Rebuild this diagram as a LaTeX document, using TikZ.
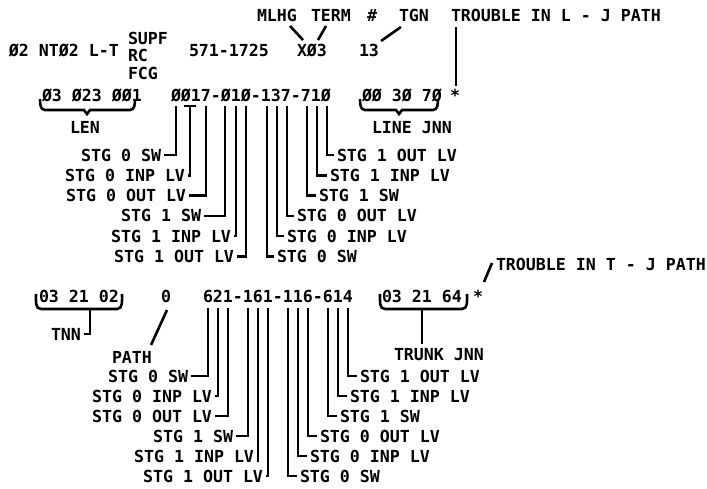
\documentclass[tikz,border=0pt]{standalone}
\usepackage{fontspec}
\setmainfont{DejaVu Sans Mono}
\newcommand\dfont{\fontsize{16.6}{18}\selectfont\bfseries}
\begin{document}
\begin{tikzpicture}[x=1pt,y=-1pt,
  tl/.style={inner sep=0pt, outer sep=0pt, anchor=base west, font=\dfont},
  tr/.style={tl, anchor=base east},
  ln/.style={line width=2.6pt}]
\useasboundingbox[fill=white] (0,0) rectangle (707,488);
% ---------- row 1 ----------
\node[tl] (mlhg) at (257,21) {MLHG};
\node[tl] (term) at (311,21) {TERM};
\node[tl] (hash) at (367,21) {\#};
\node[tl] (tgn) at (399,21) {TGN};
\node[tl] (trl) at (451,21) {TROUBLE IN L - J PATH};
% ---------- row 2 ----------
\node[tl] (nt) at (9,56) {Ø2 NTØ2 L-T};
\node[tl] (supf) at (128,44) {SUPF};
\node[tl] (rc) at (128,61) {RC};
\node[tl] (fcg) at (128,79) {FCG};
\node[tl] (num) at (189,56) {571-1725};
\node[tl] (x03) at (297,56) {XØ3};
\node[tl] (n13) at (359,56) {13};
\coordinate (m1) at (290,26); \coordinate (m2) at (303,40);
\coordinate (e1) at (326,26); \coordinate (e2) at (318,40);
\coordinate (g1) at (401,27); \coordinate (g2) at (381,41);
\draw[ln] (m1) -- (m2);
\draw[ln] (e1) -- (e2);
\draw[ln] (g1) -- (g2);
% ---------- row 3 ----------
\node[tl] (len3) at (42,101) {Ø3 Ø23 ØØ1};
\node[tl] (lnum) at (171,101) {ØØ17-Ø1Ø-137-71Ø};
\node[tl] (ljn) at (362,101) {ØØ 3Ø 7Ø};
\node[tl] (st1) at (450,101) {*};
\coordinate (t1) at (456,27); \coordinate (t2) at (456,86);
\draw[ln] (t1) -- (t2);
\draw[ln] (40,99) to[out=-90,in=180] (45,110) -- (84,110) -- (87,114) -- (90,110) -- (130,110) to[out=0,in=-90] (135,99);
\draw[ln] (360,99) to[out=-90,in=180] (365,110) -- (396,110) -- (399,114) -- (402,110) -- (433,110) to[out=0,in=-90] (438,99);
\node[tl] (len) at (70,133) {LEN};
\node[tl] (linejnn) at (372,133) {LINE JNN};
% ---------- top lists ----------
\node[tr] (la1) at (161,161) {STG 0 SW};
\node[tr] (la2) at (185,181.3) {STG 0 INP LV};
\node[tr] (la3) at (186,201.6) {STG 0 OUT LV};
\node[tr] (la4) at (201,221.9) {STG 1 SW};
\node[tr] (la5) at (231,242.2) {STG 1 INP LV};
\node[tr] (la6) at (234,262.5) {STG 1 OUT LV};
\node[tl] (ra1) at (337,161) {STG 1 OUT LV};
\node[tl] (ra2) at (330,181.3) {STG 1 INP LV};
\node[tl] (ra3) at (319,201.6) {STG 1 SW};
\node[tl] (ra4) at (297,221.9) {STG 0 OUT LV};
\node[tl] (ra5) at (287,242.2) {STG 0 INP LV};
\node[tl] (ra6) at (277,262.5) {STG 0 SW};
\coordinate (a1) at (176,106); \coordinate (a2) at (190,106);
\coordinate (a3) at (206,106); \coordinate (a4) at (225,106);
\coordinate (a5) at (236,106); \coordinate (a6) at (246,106);
\coordinate (b1) at (327,106); \coordinate (b2) at (317,106);
\coordinate (b3) at (307,106); \coordinate (b4) at (287,106);
\coordinate (b5) at (277,106); \coordinate (b6) at (267,106);
\coordinate (tb1) at (184,106); \coordinate (tb2) at (196,106);
\draw[ln] (tb1) -- (tb2);
\foreach \i in {1,...,6}{
  \draw[ln] (a\i) |- ([xshift=3pt]la\i.east);
  \draw[ln] (b\i) |- ([xshift=-3pt]ra\i.west);
}
% ---------- bottom section ----------
\node[tl] (trt) at (496,270) {TROUBLE IN T - J PATH};
\coordinate (s1) at (492,263); \coordinate (s2) at (484,282);
\draw[ln] (s1) -- (s2);
\node[tl] (tnn3) at (39,302) {03 21 02};
\node[tl] (p0) at (161,302) {0};
\node[tl] (tnum) at (203,302) {621-161-116-614};
\node[tl] (tjn) at (382,302) {03 21 64};
\node[tl] (st2) at (473,302) {*};
\draw[ln] (36,294) to[out=-90,in=180] (41,309) -- (117,309) to[out=0,in=-90] (122,294);
\draw[ln] (380,294) to[out=-90,in=180] (385,309) -- (462,309) to[out=0,in=-90] (467,294);
\node[tl] (tnn) at (51,340) {TNN};
\coordinate (c1) at (90,309);
\draw[ln] (c1) |- ([xshift=3pt]tnn.east);
\node[tl] (path) at (112,363) {PATH};
\coordinate (p1) at (167,310); \coordinate (p2) at (151,345);
\draw[ln] (p1) -- (p2);
\node[tl] (trunk) at (394,360) {TRUNK JNN};
\coordinate (k1) at (422,309);
\draw[ln] (k1) -- ([yshift=4pt]trunk.north -| k1);
% ---------- bottom lists ----------
\node[tr] (lb1) at (188,382) {STG 0 SW};
\node[tr] (lb2) at (212,402) {STG 0 INP LV};
\node[tr] (lb3) at (212,422) {STG 0 OUT LV};
\node[tr] (lb4) at (233,442) {STG 1 SW};
\node[tr] (lb5) at (254,462) {STG 1 INP LV};
\node[tr] (lb6) at (263,482) {STG 1 OUT LV};
\node[tl] (rb1) at (360,382) {STG 1 OUT LV};
\node[tl] (rb2) at (350,402) {STG 1 INP LV};
\node[tl] (rb3) at (340,422) {STG 1 SW};
\node[tl] (rb4) at (320,442) {STG 0 OUT LV};
\node[tl] (rb5) at (310,462) {STG 0 INP LV};
\node[tl] (rb6) at (300,482) {STG 0 SW};
\coordinate (d1) at (208,308); \coordinate (d2) at (218,308);
\coordinate (d3) at (228,308); \coordinate (d4) at (248,308);
\coordinate (d5) at (258,308); \coordinate (d6) at (268,308);
\coordinate (f1) at (348,308); \coordinate (f2) at (338,308);
\coordinate (f3) at (328,308); \coordinate (f4) at (308,308);
\coordinate (f5) at (298,308); \coordinate (f6) at (288,308);
\foreach \i in {1,2,3,4,6}{
  \draw[ln] (d\i) |- ([xshift=3pt]lb\i.east);
}
\draw[ln] (d5) -- (d5 |- lb5.base);
\foreach \i in {1,...,6}{
  \draw[ln] (f\i) |- ([xshift=-3pt]rb\i.west);
}
\end{tikzpicture}
\end{document}
